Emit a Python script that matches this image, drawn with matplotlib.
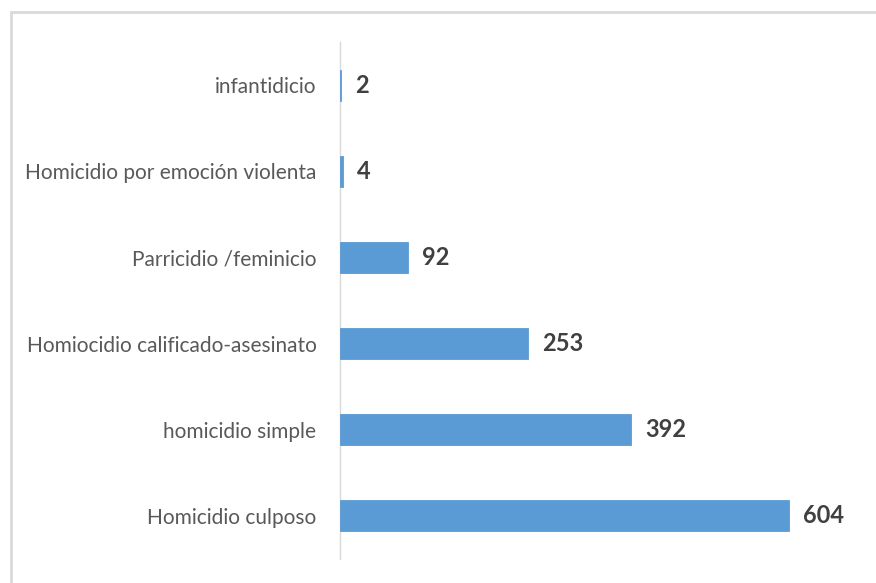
import matplotlib.pyplot as plt
from matplotlib.patches import Rectangle

# Datos (de abajo hacia arriba)
categorias = [
    "Homicidio culposo",
    "homicidio simple",
    "Homiocidio calificado-asesinato",
    "Parricidio /feminicio",
    "Homicidio por emoción violenta",
    "infantidicio",
]
valores = [604, 392, 253, 92, 4, 2]

plt.rcParams["font.family"] = ["Lato", "DejaVu Sans"]

fig = plt.figure(figsize=(8.76, 5.83), dpi=100)

# marco exterior (solo se ven borde superior e izquierdo)
fig.patches.append(
    Rectangle(
        (11 / 876, -0.05), 1.1, 1 - 11.5 / 583 + 0.05,
        transform=fig.transFigure,
        fill=False,
        edgecolor="#D9D9D9",
        linewidth=2,
    )
)

ax = fig.add_axes([340 / 876, 1 - 559 / 583, 520 / 876, (559 - 42) / 583])

posiciones = range(len(categorias))

ax.barh(
    posiciones,
    valores,
    height=0.36,
    color="#5B9BD5",
    edgecolor="#5B9BD5",
    linewidth=0.6,
    zorder=3,
)

for pos, val in zip(posiciones, valores):
    ax.text(
        val + 19,
        pos,
        str(val),
        va="center",
        ha="left",
        fontsize=17,
        fontweight="bold",
        color="#404040",
    )

ax.set_xlim(0, 700)
ax.set_ylim(-0.5, len(categorias) - 0.5)

ax.set_yticks(list(posiciones))
ax.set_yticklabels(categorias, fontsize=15, color="#595959")
ax.tick_params(axis="y", length=0, pad=17)
ax.set_xticks([])

for lado in ["top", "right", "bottom"]:
    ax.spines[lado].set_visible(False)
ax.spines["left"].set_color("#D9D9D9")
ax.spines["left"].set_linewidth(1)
ax.spines["left"].set_zorder(1)

fig.savefig("out.png", dpi=100)
